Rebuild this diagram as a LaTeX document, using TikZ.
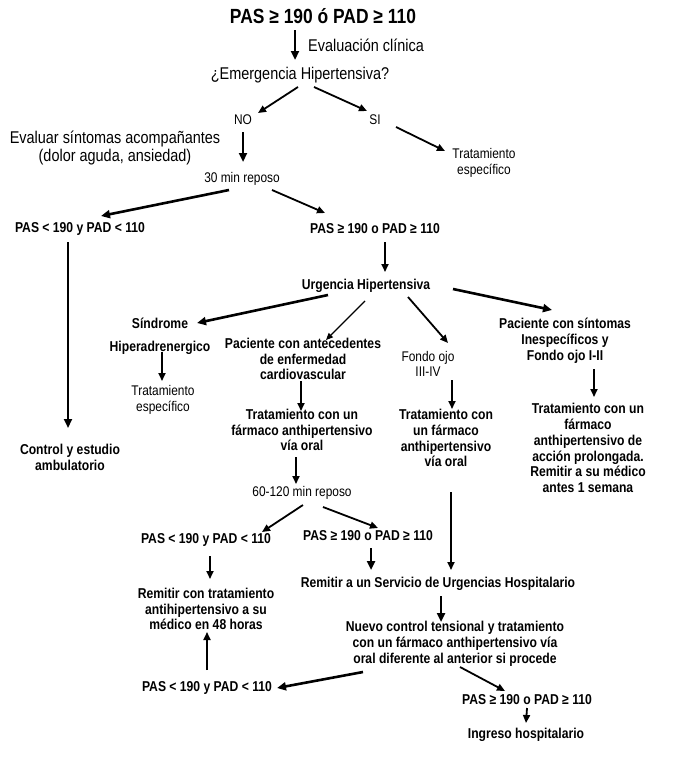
\documentclass[tikz,border=0pt]{standalone}
\usepackage{fontspec}
\setmainfont[FakeStretch=0.85]{Liberation Sans}
\usepackage{tikz}
\usetikzlibrary{arrows.meta}
\tikzstyle{txt}=[inner sep=1pt, align=center, font=\fontsize{14}{15.5}\selectfont]
\tikzstyle{btxt}=[inner sep=1pt, align=center, font=\fontsize{14.3}{15.8}\selectfont\bfseries]
\tikzstyle{big}=[inner sep=1pt, align=center, font=\fontsize{17}{18}\selectfont]
\tikzstyle{ttl}=[inner sep=1pt, font=\fontsize{20.5}{22}\selectfont\bfseries]
\tikzstyle{thk}=[line width=2.6pt, -{Triangle[length=9pt,width=8pt]}]
\tikzstyle{med}=[line width=1.8pt, -{Triangle[length=8pt,width=7pt]}]
\tikzstyle{thn}=[line width=1.2pt, -{Triangle[length=7pt,width=6pt]}]

\begin{document}
\begin{tikzpicture}[x=1pt, y=-1pt]
  \path[use as bounding box] (0,0) rectangle (679,771);
  % nodes
  \node[ttl] (title) at (323,16) {PAS ≥ 190 ó PAD ≥ 110};
  \node[big, anchor=west] (evalc) at (307,45) {Evaluación clínica};
  \node[big] (emerg) at (300,75) {¿Emergencia Hipertensiva?};
  \node[txt] (no) at (243,120) {NO};
  \node[txt] (si) at (375,120) {SI};
  \node[big] (evals) at (115,148) {Evaluar síntomas acompañantes\\(dolor aguda, ansiedad)};
  \node[txt] (reposo) at (242,179) {30 min reposo};
  \node[txt] (tratsi) at (484,163) {Tratamiento\\específico};
  \node[btxt] (pasl1) at (80,229) {PAS < 190 y PAD < 110};
  \node[btxt] (pasg1) at (375,229) {PAS ≥ 190 o PAD ≥ 110};
  \node[btxt] (control) at (70,457) {Control y estudio\\ambulatorio};
  \node[btxt] (urg) at (366,286) {Urgencia Hipertensiva};
  \node[btxt] (sind) at (160,323) {Síndrome};
  \node[btxt] (hiper) at (160,348) {Hiperadrenergico};
  \node[txt] (tratesp) at (163,400) {Tratamiento\\específico};
  \node[btxt] (pacante) at (303,359) {Paciente con antecedentes\\de enfermedad\\cardiovascular};
  \node[txt] (fondo) at (428,364) {Fondo ojo\\III-IV};
  \node[btxt] (pacsint) at (565,341) {Paciente con síntomas\\Inespecíficos y\\Fondo ojo I-II};
  \node[btxt] (trat1) at (302,430) {Tratamiento con un\\fármaco anthipertensivo\\vía oral};
  \node[btxt] (trat2) at (446,438) {Tratamiento con\\un fármaco\\anthipertensivo\\vía oral};
  \node[btxt] (trat3) at (588,448) {Tratamiento con un\\fármaco\\anthipertensivo de\\acción prolongada.\\Remitir a su médico\\antes 1 semana};
  \node[txt] (reposo2) at (302,493) {60-120 min reposo};
  \node[btxt] (pasl2) at (206,540) {PAS < 190 y PAD < 110};
  \node[btxt] (pasg2) at (368,536) {PAS ≥ 190 o PAD ≥ 110};
  \node[btxt] (remsu) at (438,584) {Remitir a un Servicio de Urgencias Hospitalario};
  \node[btxt] (remcon) at (206,609) {Remitir con tratamiento\\antihipertensivo a su\\médico en 48 horas};
  \node[btxt] (nuevo) at (455,644) {Nuevo control tensional y tratamiento\\con un fármaco anthipertensivo vía\\oral diferente al anterior si procede};
  \node[btxt] (pasl3) at (207,688) {PAS < 190 y PAD < 110};
  \node[btxt] (pasg3) at (527,700) {PAS ≥ 190 o PAD ≥ 110};
  \node[btxt] (ingreso) at (526,735) {Ingreso hospitalario};
  % arrows
  \draw[thk] ([shift={(-28,14)}]title.center) -- ([shift={(-5,-15)}]emerg.center);
  \draw[med] ([shift={(-2,12)}]emerg.center) -- ([shift={(15,-7)}]no.center);
  \draw[med] ([shift={(14,12)}]emerg.center) -- ([shift={(-8,-9)}]si.center);
  \draw[thk] ([shift={(0,12)}]no.center) -- ([shift={(1,-17)}]reposo.center);
  \draw[med] ([shift={(21,7)}]si.center) -- ([shift={(-39,-12)}]tratsi.center);
  \draw[thk] ([shift={(-13,11)}]reposo.center) -- ([shift={(21,-13)}]pasl1.center);
  \draw[med] ([shift={(30,11)}]reposo.center) -- ([shift={(-50,-16)}]pasg1.center);
  \draw[thk] ([shift={(-12,13)}]pasl1.center) -- ([shift={(-2,-29)}]control.center);
  \draw[med] ([shift={(10,13)}]pasg1.center) -- ([shift={(19,-14)}]urg.center);
  \draw[thk] ([shift={(-38,9)}]urg.center) -- ([shift={(37,0)}]sind.center);
  \draw[thn] ([shift={(-1,15)}]urg.center) -- ([shift={(23,-19)}]pacante.center);
  \draw[med] ([shift={(42,11)}]urg.center) -- ([shift={(20,-21)}]fondo.center);
  \draw[thk] ([shift={(87,3)}]urg.center) -- ([shift={(-13,-31)}]pacsint.center);
  \draw[med] ([shift={(2,4)}]hiper.center) -- ([shift={(-1,-19)}]tratesp.center);
  \draw[med] ([shift={(-2,22)}]pacante.center) -- ([shift={(-1,-19)}]trat1.center);
  \draw[med] ([shift={(24,16)}]fondo.center) -- ([shift={(6,-29)}]trat2.center);
  \draw[med] ([shift={(29,28)}]pacsint.center) -- ([shift={(6,-51)}]trat3.center);
  \draw[med] ([shift={(-6,27)}]trat1.center) -- ([shift={(-6,-9)}]reposo2.center);
  \draw[med] ([shift={(1,12)}]reposo2.center) -- ([shift={(56,-8)}]pasl2.center);
  \draw[med] ([shift={(21,14)}]reposo2.center) -- ([shift={(10,-8)}]pasg2.center);
  \draw[thk] ([shift={(3,12)}]pasg2.center) -- ([shift={(-67,-14)}]remsu.center);
  \draw[med] ([shift={(5,54)}]trat2.center) -- ([shift={(13,-14)}]remsu.center);
  \draw[med] ([shift={(4,16)}]pasl2.center) -- ([shift={(4,-30)}]remcon.center);
  \draw[thk] ([shift={(3,12)}]remsu.center) -- ([shift={(-14,-22)}]nuevo.center);
  \draw[thk] ([shift={(-92,28)}]nuevo.center) -- ([shift={(70,0)}]pasl3.center);
  \draw[med] ([shift={(5,23)}]nuevo.center) -- ([shift={(-22,-9)}]pasg3.center);
  \draw[med] ([shift={(0,-18)}]pasl3.center) -- ([shift={(1,23)}]remcon.center);
  \draw[med] ([shift={(0,8)}]pasg3.center) -- ([shift={(0,-12)}]ingreso.center);
\end{tikzpicture}
\end{document}
